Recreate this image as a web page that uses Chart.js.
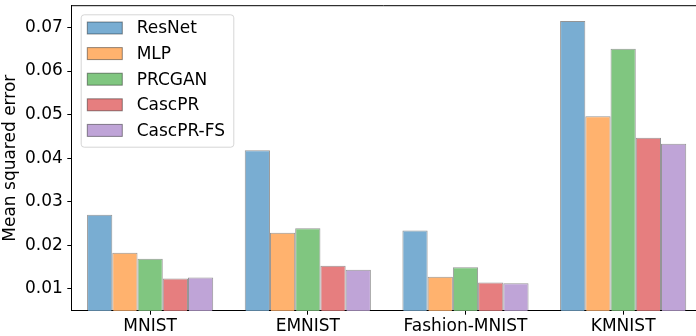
<!DOCTYPE html>
<html>
<head>
<meta charset="utf-8">
<script src="https://cdn.jsdelivr.net/npm/chart.js@4"></script>
<style>
  html, body { margin: 0; padding: 0; background: #fff; overflow: hidden; }
  canvas { display: block; }
</style>
</head>
<body>
<canvas id="mseChart" width="696" height="336"></canvas>
<script>
const datasetsNames = ['MNIST', 'EMNIST', 'Fashion-MNIST', 'KMNIST'];
const methods = ['ResNet', 'MLP', 'PRCGAN', 'CascPR', 'CascPR-FS'];

const resnet   = [0.0270, 0.0418, 0.0234, 0.0715];
const mlp      = [0.0183, 0.0229, 0.0128, 0.0496];
const prcgan   = [0.0169, 0.0239, 0.0150, 0.0651];
const cascpr   = [0.0124, 0.0153, 0.0115, 0.0447];
const cascprFs = [0.0126, 0.0144, 0.0113, 0.0433];

const yTicks = [0.01, 0.02, 0.03, 0.04, 0.05, 0.06, 0.07];

const colors = ['#79add2', '#ffb26e', '#80c680', '#e67e7f', '#bfa4d7'];
const edge = 'rgba(0,0,0,0.42)';
const font = { family: 'DejaVu Sans', size: 17 };

// top spine + legend inside the axes
const frameAndLegend = {
  id: 'frameAndLegend',
  afterDraw(chart) {
    const { ctx, chartArea } = chart;
    ctx.save();
    ctx.strokeStyle = '#000';
    ctx.lineWidth = 1;
    ctx.beginPath();
    ctx.moveTo(chartArea.left, chartArea.top);
    ctx.lineTo(chartArea.right, chartArea.top);
    ctx.stroke();

    const x0 = chartArea.left + 9.4, y0 = chartArea.top + 8.6;
    const w = 152.6, h = 132.4, r = 3;
    ctx.fillStyle = 'rgba(255,255,255,0.8)';
    ctx.strokeStyle = 'rgba(204,204,204,0.8)';
    ctx.beginPath();
    ctx.roundRect(x0 + 0.5, y0 + 0.5, w, h, r);
    ctx.fill();
    ctx.stroke();

    ctx.font = '17px "DejaVu Sans"';
    ctx.textBaseline = 'middle';
    chart.data.datasets.forEach((ds, i) => {
      const cy = y0 + 13.7 + i * 25.6;
      ctx.fillStyle = ds.backgroundColor;
      ctx.fillRect(x0 + 6.6, cy - 6, 35, 12);
      ctx.strokeStyle = edge;
      ctx.strokeRect(x0 + 6.6, cy - 6, 35, 12);
      ctx.fillStyle = '#000';
      ctx.fillText(ds.label, x0 + 56, cy + 1);
    });
    ctx.restore();
  }
};

const seriesValues = [resnet, mlp, prcgan, cascpr, cascprFs];

new Chart(document.getElementById('mseChart'), {
  type: 'bar',
  data: {
    datasets: methods.map((m, i) => ({
      label: m,
      data: seriesValues[i].map((v, j) => ({ x: j, y: v })),
      backgroundColor: colors[i],
      borderColor: edge,
      borderWidth: 1,
      borderSkipped: 'bottom',
      categoryPercentage: 0.8,
      barPercentage: 1.0
    }))
  },
  options: {
    responsive: false,
    animation: false,
    layout: { padding: { left: 0, top: 5.7, right: 0, bottom: 0 } },
    plugins: {
      legend: { display: false },
      tooltip: { enabled: false }
    },
    scales: {
      x: {
        type: 'linear',
        offset: false,
        // axes run slightly past the right edge of the canvas
        min: -0.5,
        max: 3.462,
        grid: {
          display: true, drawOnChartArea: false, drawTicks: true,
          offset: false, tickLength: 4, color: '#000'
        },
        border: { color: '#000', width: 1 },
        ticks: {
          color: '#000', font: font, padding: 2, maxRotation: 0,
          callback: v => datasetsNames[v]
        },
        afterBuildTicks(scale) {
          scale.ticks = datasetsNames.map((_, j) => ({ value: j }));
        },
        afterFit(scale) {
          scale.height = 25.3;
          scale.paddingLeft = 0;
          scale.paddingRight = 0;
        }
      },
      y: {
        min: 0.005,
        max: 0.075,
        grid: {
          display: true, drawOnChartArea: false, drawTicks: true,
          tickLength: 4, color: '#000'
        },
        border: { color: '#000', width: 1 },
        ticks: {
          color: '#000', font: font, padding: 4.5,
          callback: v => v.toFixed(2)
        },
        afterBuildTicks(scale) {
          scale.ticks = yTicks.map(v => ({ value: v }));
        },
        title: {
          display: true, text: 'Mean squared error', color: '#000',
          font: font, padding: { top: 0, bottom: 0 }
        },
        afterFit(scale) {
          scale.width = 71.3;
          scale.paddingTop = 0;
          scale.paddingBottom = 0;
        }
      }
    }
  },
  plugins: [frameAndLegend]
});
</script>
</body>
</html>
